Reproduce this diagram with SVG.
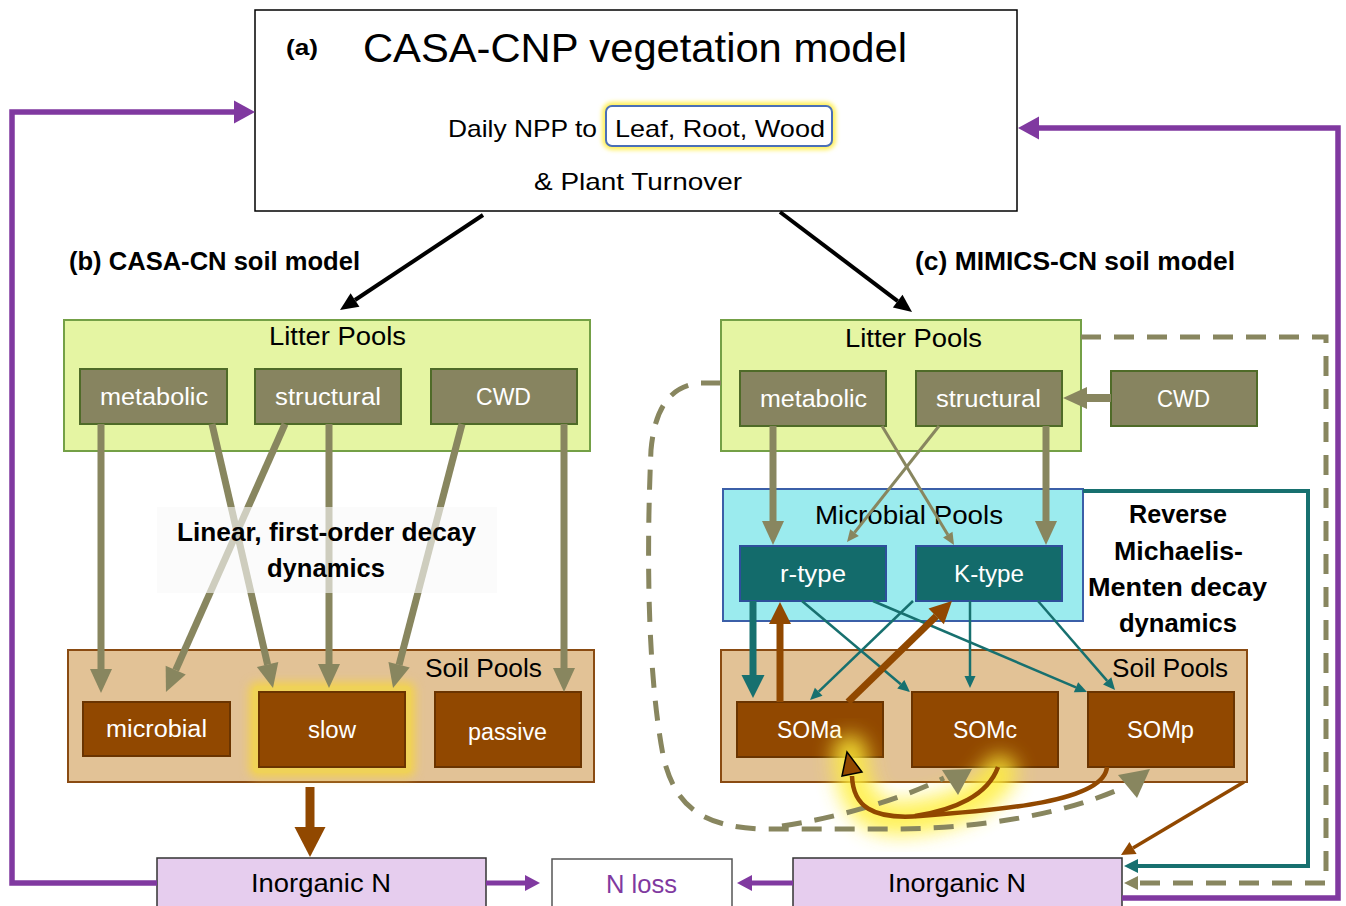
<svg xmlns="http://www.w3.org/2000/svg" width="1346" height="906" viewBox="0 0 1346 906">
<defs>
<style>
text{font-family:"Liberation Sans",Arial,sans-serif;}
.b{font-weight:bold;}
.lbl{font-size:25px;fill:#000;}
.sub{font-size:23px;fill:#fff;}
.hd{font-size:25px;font-weight:bold;fill:#000;}
.olvbox{fill:#878460;stroke:#4F6B28;stroke-width:2;}
.litter{fill:#E5F5A3;stroke:#74A046;stroke-width:2;}
.soil{fill:#E2C296;stroke:#8A4B12;stroke-width:2;}
.som{fill:#914800;stroke:#6A3400;stroke-width:2;}
.mic{fill:#9BEBEE;stroke:#3B5FA8;stroke-width:2;}
.teal{fill:#136B6B;stroke:#2E4F9B;stroke-width:2;}
.inorg{fill:#E6CDEE;stroke:#333;stroke-width:1.5;}
.c{fill:none;}
.ol{stroke:#88865F;}
.tl{stroke:#17706F;}
.br{stroke:#914800;}
.pu{stroke:#8039A0;}
.bk{stroke:#000;}
.dash{stroke-dasharray:20 13;}
</style>
<filter id="blur4" x="-50%" y="-50%" width="200%" height="200%"><feGaussianBlur stdDeviation="5"/></filter>
<filter id="blur2" x="-20%" y="-50%" width="140%" height="200%"><feGaussianBlur stdDeviation="2"/></filter>
<filter id="blur10" x="-50%" y="-50%" width="200%" height="200%"><feGaussianBlur stdDeviation="10"/></filter>
<marker id="oliveB" markerUnits="userSpaceOnUse" orient="auto" overflow="visible" markerWidth="1" markerHeight="1" refX="0" refY="0"><path d="M0,-11 L24,0 L0,11 Z" fill="#88865F"/></marker>
<marker id="oliveS" markerUnits="userSpaceOnUse" orient="auto" overflow="visible" markerWidth="1" markerHeight="1" refX="0" refY="0"><path d="M0,-5.5 L12,0 L0,5.5 Z" fill="#88865F"/></marker>
<marker id="oliveD" markerUnits="userSpaceOnUse" orient="auto" overflow="visible" markerWidth="1" markerHeight="1" refX="0" refY="0"><path d="M0,-7 L14,0 L0,7 Z" fill="#88865F"/></marker>
<marker id="tealB" markerUnits="userSpaceOnUse" orient="auto" overflow="visible" markerWidth="1" markerHeight="1" refX="0" refY="0"><path d="M0,-11.5 L23,0 L0,11.5 Z" fill="#17706F"/></marker>
<marker id="tealS" markerUnits="userSpaceOnUse" orient="auto" overflow="visible" markerWidth="1" markerHeight="1" refX="0" refY="0"><path d="M0,-5.5 L12,0 L0,5.5 Z" fill="#17706F"/></marker>
<marker id="tealM" markerUnits="userSpaceOnUse" orient="auto" overflow="visible" markerWidth="1" markerHeight="1" refX="0" refY="0"><path d="M0,-7 L14,0 L0,7 Z" fill="#17706F"/></marker>
<marker id="brownB" markerUnits="userSpaceOnUse" orient="auto" overflow="visible" markerWidth="1" markerHeight="1" refX="0" refY="0"><path d="M0,-11 L22,0 L0,11 Z" fill="#914800"/></marker>
<marker id="brownBig" markerUnits="userSpaceOnUse" orient="auto" overflow="visible" markerWidth="1" markerHeight="1" refX="0" refY="0"><path d="M0,-15.5 L30,0 L0,15.5 Z" fill="#914800"/></marker>
<marker id="brownS" markerUnits="userSpaceOnUse" orient="auto" overflow="visible" markerWidth="1" markerHeight="1" refX="0" refY="0"><path d="M0,-7 L14,0 L0,7 Z" fill="#914800"/></marker>
<marker id="purpleB" markerUnits="userSpaceOnUse" orient="auto" overflow="visible" markerWidth="1" markerHeight="1" refX="0" refY="0"><path d="M0,-11.5 L21,0 L0,11.5 Z" fill="#8039A0"/></marker>
<marker id="purpleS" markerUnits="userSpaceOnUse" orient="auto" overflow="visible" markerWidth="1" markerHeight="1" refX="0" refY="0"><path d="M0,-8 L15,0 L0,8 Z" fill="#8039A0"/></marker>
<marker id="blackA" markerUnits="userSpaceOnUse" orient="auto" overflow="visible" markerWidth="1" markerHeight="1" refX="0" refY="0"><path d="M0,-8 L18,0 L0,8 Z" fill="#000"/></marker>
</defs>
<rect x="0" y="0" width="1346" height="906" fill="#fff"/>

<!-- (a) vegetation model -->
<g id="vegetation-model">
<rect x="255" y="10" width="762" height="201" fill="#fff" stroke="#000" stroke-width="1.5"/>
<text x="286" y="55" class="b" font-size="22" textLength="32" lengthAdjust="spacingAndGlyphs">(a)</text>
<text x="363" y="62" font-size="40" textLength="544" lengthAdjust="spacingAndGlyphs">CASA-CNP vegetation model</text>
<text x="448" y="137" font-size="24" textLength="149" lengthAdjust="spacingAndGlyphs">Daily NPP to</text>
<rect x="606" y="106" width="226" height="40" rx="6" fill="none" stroke="#FFF05A" stroke-width="8" filter="url(#blur2)"/>
<rect x="606" y="106" width="226" height="40" rx="6" fill="#fff" stroke="#4A6FB8" stroke-width="2"/>
<text x="615" y="137" font-size="24" textLength="210" lengthAdjust="spacingAndGlyphs">Leaf, Root, Wood</text>
<text x="534" y="190" font-size="24" textLength="208" lengthAdjust="spacingAndGlyphs">&amp; Plant Turnover</text>
</g>

<g id="section-labels">
<text x="69" y="270" class="hd" textLength="291" lengthAdjust="spacingAndGlyphs">(b) CASA-CN soil model</text>
<text x="915" y="270" class="hd" textLength="320" lengthAdjust="spacingAndGlyphs">(c) MIMICS-CN soil model</text>
</g>

<!-- containers -->
<g id="casa-litter-pools">
<rect x="64" y="320" width="526" height="131" class="litter"/>
<text x="269" y="345" class="lbl" textLength="137" lengthAdjust="spacingAndGlyphs">Litter Pools</text>
</g>
<g id="casa-soil-pools">
<rect x="68" y="650" width="526" height="132" class="soil"/>
<text x="425" y="677" class="lbl" textLength="117" lengthAdjust="spacingAndGlyphs">Soil Pools</text>
</g>
<g id="mimics-litter-pools">
<rect x="721" y="320" width="360" height="131" class="litter"/>
<text x="845" y="347" class="lbl" textLength="137" lengthAdjust="spacingAndGlyphs">Litter Pools</text>
</g>
<g id="mimics-microbial-pools">
<rect x="723" y="489" width="360" height="132" class="mic"/>
<text x="815" y="524" class="lbl" textLength="188" lengthAdjust="spacingAndGlyphs">Microbial Pools</text>
</g>
<g id="mimics-soil-pools">
<rect x="721" y="650" width="526" height="132" class="soil"/>
<text x="1112" y="677" class="lbl" textLength="116" lengthAdjust="spacingAndGlyphs">Soil Pools</text>
</g>

<!-- glow behind slow -->
<rect x="249" y="682" width="166" height="95" rx="8" fill="#F3D24E" filter="url(#blur4)"/>
<rect x="253" y="686" width="158" height="87" rx="5" fill="#EFD258"/>

<!-- CASA nodes -->
<g id="casa-metabolic"><rect x="80" y="369" width="147" height="55" class="olvbox"/><text x="100" y="405" class="sub" textLength="108" lengthAdjust="spacingAndGlyphs">metabolic</text></g>
<g id="casa-structural"><rect x="255" y="369" width="146" height="55" class="olvbox"/><text x="275" y="405" class="sub" textLength="106" lengthAdjust="spacingAndGlyphs">structural</text></g>
<g id="casa-cwd"><rect x="431" y="369" width="146" height="55" class="olvbox"/><text x="476" y="405" class="sub" textLength="55" lengthAdjust="spacingAndGlyphs">CWD</text></g>
<g id="casa-microbial"><rect x="83" y="702" width="147" height="54" class="som"/><text x="106" y="737" class="sub" textLength="101" lengthAdjust="spacingAndGlyphs">microbial</text></g>
<g id="casa-slow"><rect x="259" y="692" width="146" height="75" class="som"/><text x="308" y="738" class="sub" textLength="48" lengthAdjust="spacingAndGlyphs">slow</text></g>
<g id="casa-passive"><rect x="435" y="692" width="146" height="75" class="som"/><text x="468" y="740" class="sub" textLength="79" lengthAdjust="spacingAndGlyphs">passive</text></g>
<g id="casa-inorganic-n"><rect x="157" y="858" width="329" height="60" class="inorg"/><text x="251" y="892" class="lbl" textLength="140" lengthAdjust="spacingAndGlyphs">Inorganic N</text></g>

<g id="n-loss"><rect x="552" y="859" width="180" height="60" fill="#fff" stroke="#555" stroke-width="1.5"/><text x="606" y="893" font-size="25" fill="#8039A0" textLength="71" lengthAdjust="spacingAndGlyphs">N loss</text></g>

<!-- MIMICS nodes -->
<g id="mimics-metabolic"><rect x="740" y="371" width="146" height="55" class="olvbox"/><text x="760" y="407" class="sub" textLength="107" lengthAdjust="spacingAndGlyphs">metabolic</text></g>
<g id="mimics-structural"><rect x="916" y="371" width="146" height="55" class="olvbox"/><text x="936" y="407" class="sub" textLength="105" lengthAdjust="spacingAndGlyphs">structural</text></g>
<g id="mimics-cwd"><rect x="1111" y="371" width="146" height="55" class="olvbox"/><text x="1157" y="407" class="sub" textLength="53" lengthAdjust="spacingAndGlyphs">CWD</text></g>
<g id="mimics-r-type"><rect x="740" y="546" width="146" height="55" class="teal"/><text x="780" y="582" class="sub" textLength="66" lengthAdjust="spacingAndGlyphs">r-type</text></g>
<g id="mimics-k-type"><rect x="916" y="546" width="146" height="55" class="teal"/><text x="954" y="582" class="sub" textLength="70" lengthAdjust="spacingAndGlyphs">K-type</text></g>
<g id="mimics-soma"><rect x="737" y="702" width="146" height="55" class="som"/><text x="777" y="738" class="sub" textLength="65" lengthAdjust="spacingAndGlyphs">SOMa</text></g>
<g id="mimics-somc"><rect x="912" y="692" width="146" height="75" class="som"/><text x="953" y="738" class="sub" textLength="64" lengthAdjust="spacingAndGlyphs">SOMc</text></g>
<g id="mimics-somp"><rect x="1088" y="692" width="146" height="75" class="som"/><text x="1127" y="738" class="sub" textLength="67" lengthAdjust="spacingAndGlyphs">SOMp</text></g>
<g id="mimics-inorganic-n"><rect x="793" y="858" width="329" height="60" class="inorg"/><text x="888" y="892" class="lbl" textLength="138" lengthAdjust="spacingAndGlyphs">Inorganic N</text></g>

<!-- glow on SOMa return curves -->
<path d="M1000,772 C988,800 945,815 905,818 C868,821 852,800 850,752" fill="none" stroke="#FFEF3A" stroke-width="34" stroke-linecap="round" opacity="0.85" filter="url(#blur10)"/>

<g id="connectors">
<!-- vegetation to soil models -->
<path d="M483,215 L355,300" class="c bk" stroke-width="4" marker-end="url(#blackA)"/>
<path d="M780,212 L897.7,301.1" class="c bk" stroke-width="4" marker-end="url(#blackA)"/>
<!-- purple feedback -->
<path d="M157,883 H12 V112 H234" class="c pu" stroke-width="5.5" marker-end="url(#purpleB)"/>
<path d="M1122,898 H1338 V128 H1039" class="c pu" stroke-width="5.5" marker-end="url(#purpleB)"/>
<path d="M486,883 H525" class="c pu" stroke-width="5" marker-end="url(#purpleS)"/>
<path d="M793,883 H752" class="c pu" stroke-width="5" marker-end="url(#purpleS)"/>
<!-- CASA litter to soil -->
<path d="M101,424 L101,669" class="c ol" stroke-width="7" marker-end="url(#oliveB)"/>
<path d="M212,424 L267.6,664.6" class="c ol" stroke-width="7" marker-end="url(#oliveB)"/>
<path d="M285,424 L175.7,670.1" class="c ol" stroke-width="7" marker-end="url(#oliveB)"/>
<path d="M329,424 L329,664" class="c ol" stroke-width="7" marker-end="url(#oliveB)"/>
<path d="M462,424 L399.1,664.8" class="c ol" stroke-width="7" marker-end="url(#oliveB)"/>
<path d="M564,424 L564,668" class="c ol" stroke-width="7" marker-end="url(#oliveB)"/>
<path d="M310,787 L310,827" class="c br" stroke-width="9" marker-end="url(#brownBig)"/>
<!-- MIMICS litter to microbes -->
<path d="M773,426 L773,521" class="c ol" stroke-width="7" marker-end="url(#oliveB)"/>
<path d="M1046,426 L1046,521" class="c ol" stroke-width="7" marker-end="url(#oliveB)"/>
<path d="M1111,398 L1087,398" class="c ol" stroke-width="8" marker-end="url(#oliveB)"/>
<path d="M882,426 L947.8,534.7" class="c ol" stroke-width="3" marker-end="url(#oliveS)"/>
<path d="M939,426 L854.5,532.6" class="c ol" stroke-width="3" marker-end="url(#oliveS)"/>
<!-- microbes to SOM -->
<path d="M753,601 L753,675" class="c tl" stroke-width="7" marker-end="url(#tealB)"/>
<path d="M802,601 L900.8,684.3" class="c tl" stroke-width="2.5" marker-end="url(#tealS)"/>
<path d="M873,601 L1076,687.3" class="c tl" stroke-width="2.5" marker-end="url(#tealS)"/>
<path d="M913,601 L818.7,691.7" class="c tl" stroke-width="2.5" marker-end="url(#tealS)"/>
<path d="M970,601 L970,676" class="c tl" stroke-width="2.5" marker-end="url(#tealS)"/>
<path d="M1038,601 L1107.2,680.9" class="c tl" stroke-width="2.5" marker-end="url(#tealS)"/>
<path d="M1083,491 H1308 V866 H1138" class="c tl" stroke-width="4" marker-end="url(#tealM)"/>
<!-- SOMa to microbes -->
<path d="M780,702 L780,624" class="c br" stroke-width="7" marker-end="url(#brownB)"/>
<path d="M848,702 L936.2,616.3" class="c br" stroke-width="7" marker-end="url(#brownB)"/>
<!-- SOM to inorganic N -->
<path d="M1244,782 L1133,847.9" class="c br" stroke-width="3.5" marker-end="url(#brownS)"/>
<!-- dashed litter paths -->
<path d="M1081,337 H1326 V883 H1138" class="c ol dash" stroke-width="5" marker-end="url(#oliveD)"/>
<path d="M721,383 L700,383 C672,386 655,405 651,450 C646,560 648,680 664,760 C676,805 700,826 760,829 L900,829 C980,828 1060,815 1120,789" class="c ol dash" stroke-width="5"/>
<polygon points="1118,775 1150,769 1137,798" fill="#88865F"/>
<path d="M782,826 C830,819 895,802 944,778" class="c ol dash" stroke-width="5"/>
<polygon points="942,770 972,769 958,795" fill="#88865F"/>
<!-- SOMc / SOMp back to SOMa -->
<path d="M1107,767 C1104,802 1000,810 920,816 C872,820 853,806 852,776" class="c br" stroke-width="4.5"/>
<path d="M998,767 C988,795 955,810 915,816" class="c br" stroke-width="4.5"/>
<polygon points="847,752 842,776 862,772" fill="#914800" stroke="#000" stroke-width="1.5"/>
</g>

<g id="linear-decay-note">
<rect x="157" y="507" width="340" height="86" fill="#F8F8F8" fill-opacity="0.62"/>
<text x="177" y="541" class="hd" textLength="299" lengthAdjust="spacingAndGlyphs">Linear, first-order decay</text>
<text x="267" y="577" class="hd" textLength="118" lengthAdjust="spacingAndGlyphs">dynamics</text>
</g>

<g id="mm-decay-note">
<text x="1129" y="523" class="hd" font-size="24" textLength="98" lengthAdjust="spacingAndGlyphs">Reverse</text>
<text x="1114" y="560" class="hd" font-size="24" textLength="129" lengthAdjust="spacingAndGlyphs">Michaelis-</text>
<text x="1088" y="596" class="hd" font-size="24" textLength="179" lengthAdjust="spacingAndGlyphs">Menten decay</text>
<text x="1119" y="632" class="hd" font-size="24" textLength="118" lengthAdjust="spacingAndGlyphs">dynamics</text>
</g>
</svg>
